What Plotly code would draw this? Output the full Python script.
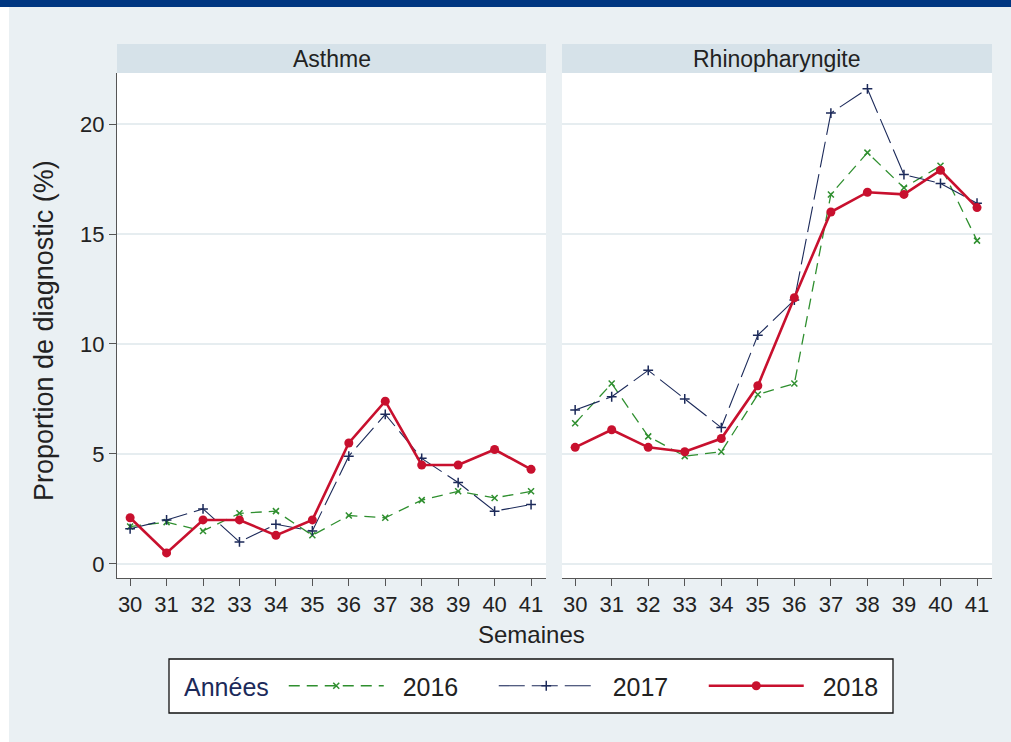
import plotly.graph_objects as go
from plotly.subplots import make_subplots

semaines = [30, 31, 32, 33, 34, 35, 36, 37, 38, 39, 40, 41]

asthme_2016 = [1.7, 1.9, 1.5, 2.3, 2.4, 1.3, 2.2, 2.1, 2.9, 3.3, 3.0, 3.3]
asthme_2017 = [1.6, 2.0, 2.5, 1.0, 1.8, 1.5, 4.9, 6.8, 4.8, 3.7, 2.4, 2.7]
asthme_2018 = [2.1, 0.5, 2.0, 2.0, 1.3, 2.0, 5.5, 7.4, 4.5, 4.5, 5.2, 4.3]

rhino_2016 = [6.4, 8.2, 5.8, 4.9, 5.1, 7.7, 8.2, 16.8, 18.7, 17.1, 18.1, 14.7]
rhino_2017 = [7.0, 7.6, 8.8, 7.5, 6.2, 10.4, 12.0, 20.5, 21.6, 17.7, 17.3, 16.4]
rhino_2018 = [5.3, 6.1, 5.3, 5.1, 5.7, 8.1, 12.1, 16.0, 16.9, 16.8, 17.9, 16.2]

annees = ["2016", "2017", "2018"]
panneaux = ["Asthme", "Rhinopharyngite"]

FONT = "Liberation Sans, Arial, sans-serif"
GREEN = "#2f8f2f"
NAVY = "#1c2a5a"
RED = "#c8102e"
TXT = "#222"

styles = {
    "2016": dict(line=dict(color=GREEN, width=1.3, dash="11px,7px"),
                 marker=dict(symbol="x-thin", size=6, color=GREEN, line=dict(color=GREEN, width=1.5))),
    "2017": dict(line=dict(color=NAVY, width=1.1, dash="26px,7px"),
                 marker=dict(symbol="cross-thin", size=7, color=NAVY, line=dict(color=NAVY, width=1.5))),
    "2018": dict(line=dict(color=RED, width=2.6),
                 marker=dict(symbol="circle", size=9, color=RED)),
}

donnees = {
    "Asthme": [asthme_2016, asthme_2017, asthme_2018],
    "Rhinopharyngite": [rhino_2016, rhino_2017, rhino_2018],
}

fig = make_subplots(rows=1, cols=2, shared_yaxes=True)

for col, panneau in enumerate(panneaux, start=1):
    for annee, valeurs in zip(annees, donnees[panneau]):
        fig.add_trace(go.Scatter(
            x=semaines, y=valeurs, mode="lines+markers", name="\u00a0\u00a0" + annee,
            showlegend=(col == 1), **styles[annee]
        ), row=1, col=col)

# geometry in pixels -> paper coords
W, H = 1011, 742
L, R, T, B = 117, 19, 44, 164
pw, ph = W - L - R, H - T - B
def px(x):
    return (x - L) / pw
def py(y):
    return (H - B - y) / ph

dom1 = [0, px(546)]
dom2 = [px(562), 1]
ytop = py(73)

axis_common = dict(
    range=[29.64, 41.41], tickmode="array", tickvals=semaines,
    ticks="outside", ticklen=7, tickcolor="#555", showline=True, linecolor="#555",
    showgrid=False, zeroline=False, tickfont=dict(size=22, color=TXT, family=FONT),
)
fig.update_layout(
    xaxis=dict(domain=dom1, **axis_common),
    xaxis2=dict(domain=dom2, **axis_common),
    yaxis=dict(domain=[0, ytop], range=[-0.64, 22.32], tickvals=[0, 5, 10, 15, 20],
               ticks="outside", ticklen=7, tickcolor="#555", showline=True, linecolor="#555",
               showgrid=True, gridcolor="#e6edf0", gridwidth=1.5, zeroline=False,
               tickfont=dict(size=22, color=TXT, family=FONT)),
    yaxis2=dict(domain=[0, ytop], range=[-0.64, 22.32], tickvals=[0, 5, 10, 15, 20],
                showticklabels=False, ticks="", showline=False,
                showgrid=True, gridcolor="#e6edf0", gridwidth=1.5, zeroline=False),
)

shapes = [
    # bandeau du haut
    dict(type="rect", xref="paper", yref="paper", x0=px(0), x1=px(W), y0=py(7), y1=py(0),
         fillcolor="#003781", line=dict(width=0), layer="below"),
    # bande blanche a gauche
    dict(type="rect", xref="paper", yref="paper", x0=px(0), x1=px(9), y0=py(H), y1=py(7),
         fillcolor="white", line=dict(width=0), layer="below"),
    # cadre de la legende
    dict(type="rect", xref="paper", yref="paper", x0=px(169), x1=px(893), y0=py(713), y1=py(659),
         fillcolor="white", line=dict(color="#111", width=1.3)),
]
annotations = []
for dom, titre in zip([dom1, dom2], panneaux):
    shapes.append(dict(type="rect", xref="paper", yref="paper", x0=dom[0], x1=dom[1],
                       y0=ytop, y1=1, fillcolor="#d6e2e9", line=dict(width=0)))
    annotations.append(dict(text=titre, xref="paper", yref="paper", x=(dom[0] + dom[1]) / 2,
                            y=(ytop + 1) / 2, showarrow=False, xanchor="center", yanchor="middle",
                            font=dict(size=23, color=TXT, family=FONT)))
annotations.append(dict(text="Semaines", xref="paper", yref="paper", x=px(531), y=py(634),
                        showarrow=False, xanchor="center", yanchor="middle",
                        font=dict(size=24, color=TXT, family=FONT)))
annotations.append(dict(text="Proportion de diagnostic (%)", xref="paper", yref="paper",
                        x=px(44), y=py(331), textangle=-90, showarrow=False,
                        xanchor="center", yanchor="middle",
                        font=dict(size=27, color=TXT, family=FONT)))

fig.update_layout(
    width=W, height=H, autosize=False,
    margin=dict(l=L, r=R, t=T, b=B),
    paper_bgcolor="#eaf0f3", plot_bgcolor="white",
    font=dict(family=FONT),
    shapes=shapes, annotations=annotations,
    legend=dict(
        orientation="h", x=px(182), xanchor="left", y=py(686), yanchor="middle",
        bgcolor="rgba(0,0,0,0)", borderwidth=0,
        title=dict(text="Années\u00a0", font=dict(size=25, color=NAVY, family=FONT)),
        font=dict(size=25, color=TXT, family=FONT),
        itemwidth=95, entrywidth=100, entrywidthmode="pixels",
        itemclick=False,
    ),
)

fig.write_html("out.html", config=dict(displayModeBar=False),
               post_script="document.body.style.margin='0';")
